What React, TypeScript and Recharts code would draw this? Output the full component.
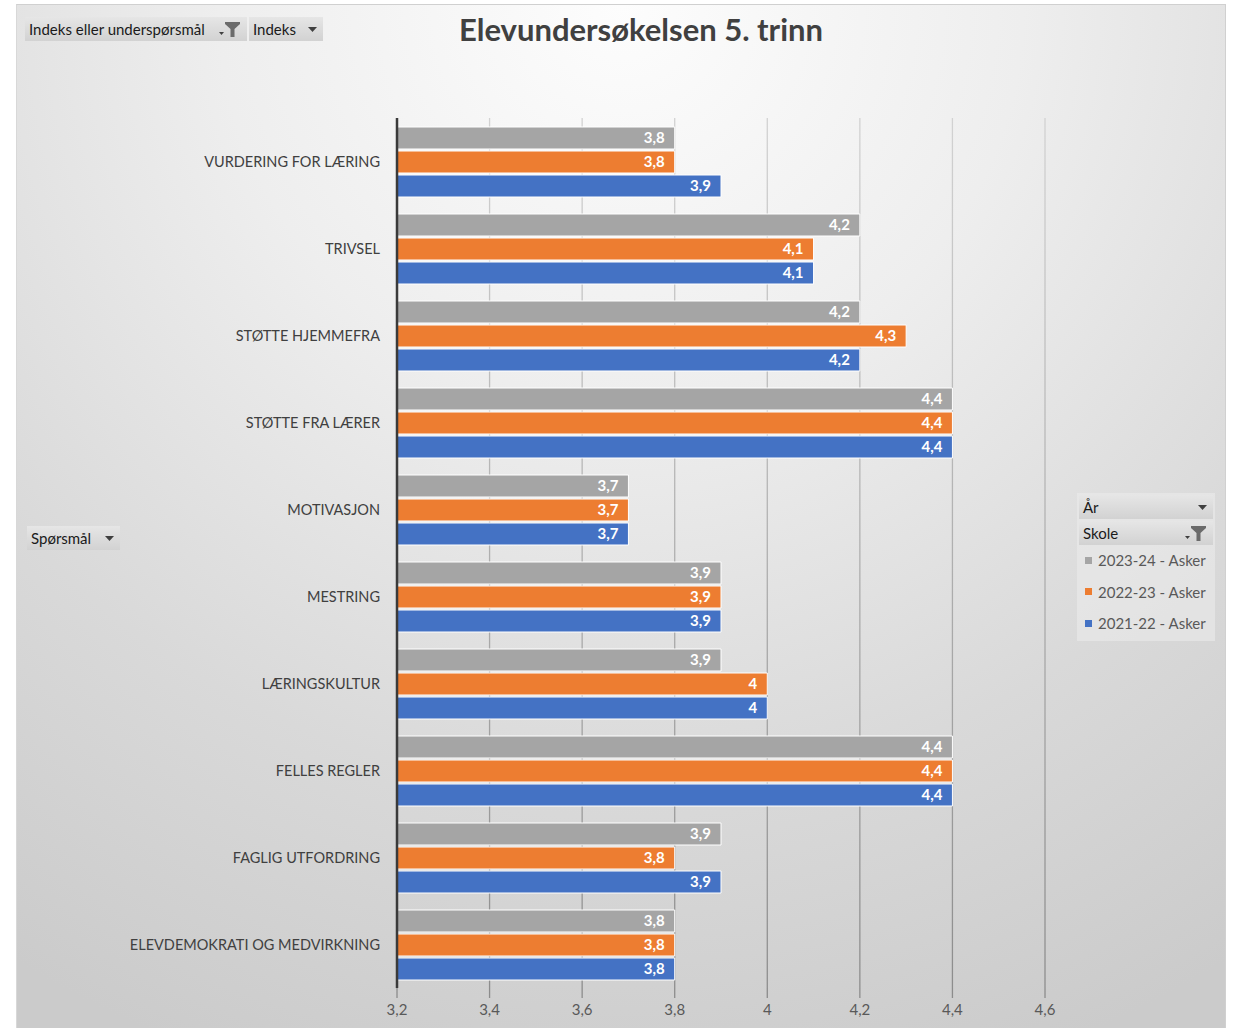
import React from "react";
import { BarChart, Bar, XAxis, YAxis, CartesianGrid, LabelList } from "recharts";

const categories = [
  "VURDERING FOR LÆRING",
  "TRIVSEL",
  "STØTTE HJEMMEFRA",
  "STØTTE FRA LÆRER",
  "MOTIVASJON",
  "MESTRING",
  "LÆRINGSKULTUR",
  "FELLES REGLER",
  "FAGLIG UTFORDRING",
  "ELEVDEMOKRATI OG MEDVIRKNING",
];
const s2023 = [3.8, 4.2, 4.2, 4.4, 3.7, 3.9, 3.9, 4.4, 3.9, 3.8];
const s2022 = [3.8, 4.1, 4.3, 4.4, 3.7, 3.9, 4.0, 4.4, 3.8, 3.8];
const s2021 = [3.9, 4.1, 4.2, 4.4, 3.7, 3.9, 4.0, 4.4, 3.9, 3.8];
const xTicks = [3.2, 3.4, 3.6, 3.8, 4.0, 4.2, 4.4, 4.6];
const seriesNames = ["2023-24 - Asker", "2022-23 - Asker", "2021-22 - Asker"];
const seriesColors = ["#A5A5A5", "#ED7D31", "#4472C4"];

const data = categories.map((c, i) => ({
  name: c,
  a: s2023[i],
  b: s2022[i],
  c: s2021[i],
}));

const FONT = "Lato, 'Open Sans', sans-serif";
const fmt = (v: any) => String(v).replace(".", ",");

const Arrow = () => (
  <svg width="9" height="5" style={{ marginLeft: 6 }}>
    <path d="M0,0 L9,0 L4.5,5 Z" fill="#404040" />
  </svg>
);
const Funnel = () => (
  <svg width="22" height="16" style={{ marginLeft: 4 }}>
    <path d="M0,11 L5,11 L2.5,14 Z" fill="#404040" />
    <path d="M6,1 L21,1 L21,3 L15.5,8 L15.5,16 L11.5,16 L11.5,8 L6,3 Z" fill="#6b6b6b" />
  </svg>
);

const btnStyle: React.CSSProperties = {
  position: "absolute",
  height: 24,
  display: "flex",
  alignItems: "center",
  justifyContent: "space-between",
  boxSizing: "border-box",
  padding: "0 6px 0 4px",
  background: "linear-gradient(#e6e6e6, #d2d2d2)",
  fontFamily: FONT,
  fontSize: 15,
  color: "#1a1a1a",
  whiteSpace: "nowrap",
};

export default function App() {
  const labelStyle = { fill: "#ffffff", fontSize: 15, fontWeight: 700, fontFamily: FONT };
  return (
    <div style={{ position: "absolute", left: 0, top: 0, width: 1240, height: 1028, background: "#ffffff", overflow: "hidden" }}>
      <div
        style={{
          position: "absolute",
          left: 16,
          top: 4,
          width: 1210,
          height: 1024,
          boxSizing: "border-box",
          borderTop: "1px solid #d0d0d0",
          borderLeft: "1px solid #d8d8d8",
          borderRight: "1px solid #d0d0d0",
          background: "radial-gradient(ellipse 95% 110% at 50% 0%, #fdfdfd 0%, #eeeeee 35%, #d9d9d9 70%, #cbcbcb 100%)",
        }}
      >
        <BarChart
          width={1210}
          height={1024}
          layout="vertical"
          data={data}
          margin={{ top: 113, right: 182, left: 0, bottom: 11 }}
          barSize={22}
          barGap={2}
        >
          <defs>
            <linearGradient id="gridGrad" gradientUnits="userSpaceOnUse" x1="0" y1="113" x2="0" y2="993">
              <stop offset="0%" stopColor="#d2d2d2" />
              <stop offset="100%" stopColor="#8c8c8c" />
            </linearGradient>
          </defs>
          <CartesianGrid horizontal={false} vertical={true} stroke="url(#gridGrad)" strokeWidth={1.3} />
          <XAxis
            type="number"
            domain={[3.2, 4.6]}
            ticks={xTicks}
            interval={0}
            tickFormatter={fmt}
            axisLine={false}
            tickLine={{ stroke: "#8c8c8c", strokeWidth: 1.3 }}
            tickSize={10}
            tickMargin={6}
            height={30}
            tick={{ fill: "#595959", fontSize: 15, fontFamily: FONT }}
          />
          <YAxis
            type="category"
            dataKey="name"
            width={380}
            axisLine={{ stroke: "#3a3a3a", strokeWidth: 2.5 }}
            tickLine={false}
            tickMargin={11}
            tick={{ fill: "#404040", fontSize: 14.5, fontFamily: FONT }}
          />
          <Bar dataKey="a" name={seriesNames[0]} fill={seriesColors[0]} stroke="#ffffff" strokeWidth={1} isAnimationActive={false}>
            <LabelList dataKey="a" position="insideRight" offset={10} formatter={fmt} style={labelStyle} />
          </Bar>
          <Bar dataKey="b" name={seriesNames[1]} fill={seriesColors[1]} stroke="#ffffff" strokeWidth={1} isAnimationActive={false}>
            <LabelList dataKey="b" position="insideRight" offset={10} formatter={fmt} style={labelStyle} />
          </Bar>
          <Bar dataKey="c" name={seriesNames[2]} fill={seriesColors[2]} stroke="#ffffff" strokeWidth={1} isAnimationActive={false}>
            <LabelList dataKey="c" position="insideRight" offset={10} formatter={fmt} style={labelStyle} />
          </Bar>
        </BarChart>

        <div
          style={{
            position: "absolute",
            left: 0,
            width: 1248,
            top: 5,
            textAlign: "center",
            fontFamily: FONT,
            fontWeight: 700,
            fontSize: 31,
            color: "#404040",
          }}
        >
          Elevundersøkelsen 5. trinn
        </div>

        <div style={{ ...btnStyle, left: 8, top: 12, width: 222 }}>
          <span>Indeks eller underspørsmål</span>
          <Funnel />
        </div>
        <div style={{ ...btnStyle, left: 232, top: 12, width: 74 }}>
          <span>Indeks</span>
          <Arrow />
        </div>
        <div style={{ ...btnStyle, left: 10, top: 521, width: 93 }}>
          <span>Spørsmål</span>
          <Arrow />
        </div>

        <div
          style={{
            position: "absolute",
            left: 1060,
            top: 488,
            width: 138,
            height: 148,
            background: "rgba(235,235,235,0.6)",
          }}
        >
          <div style={{ ...btnStyle, left: 2, top: 2, width: 134 }}>
            <span>År</span>
            <Arrow />
          </div>
          <div style={{ ...btnStyle, left: 2, top: 28, width: 134 }}>
            <span>Skole</span>
            <Funnel />
          </div>
          {seriesNames.map((n, i) => (
            <div
              key={n}
              style={{
                position: "absolute",
                left: 8,
                top: 58 + i * 31.5,
                display: "flex",
                alignItems: "center",
                fontFamily: FONT,
                fontSize: 15,
                color: "#595959",
                whiteSpace: "nowrap",
              }}
            >
              <span style={{ display: "inline-block", width: 7, height: 7, background: seriesColors[i], marginRight: 6 }} />
              {n}
            </div>
          ))}
        </div>
      </div>
    </div>
  );
}
